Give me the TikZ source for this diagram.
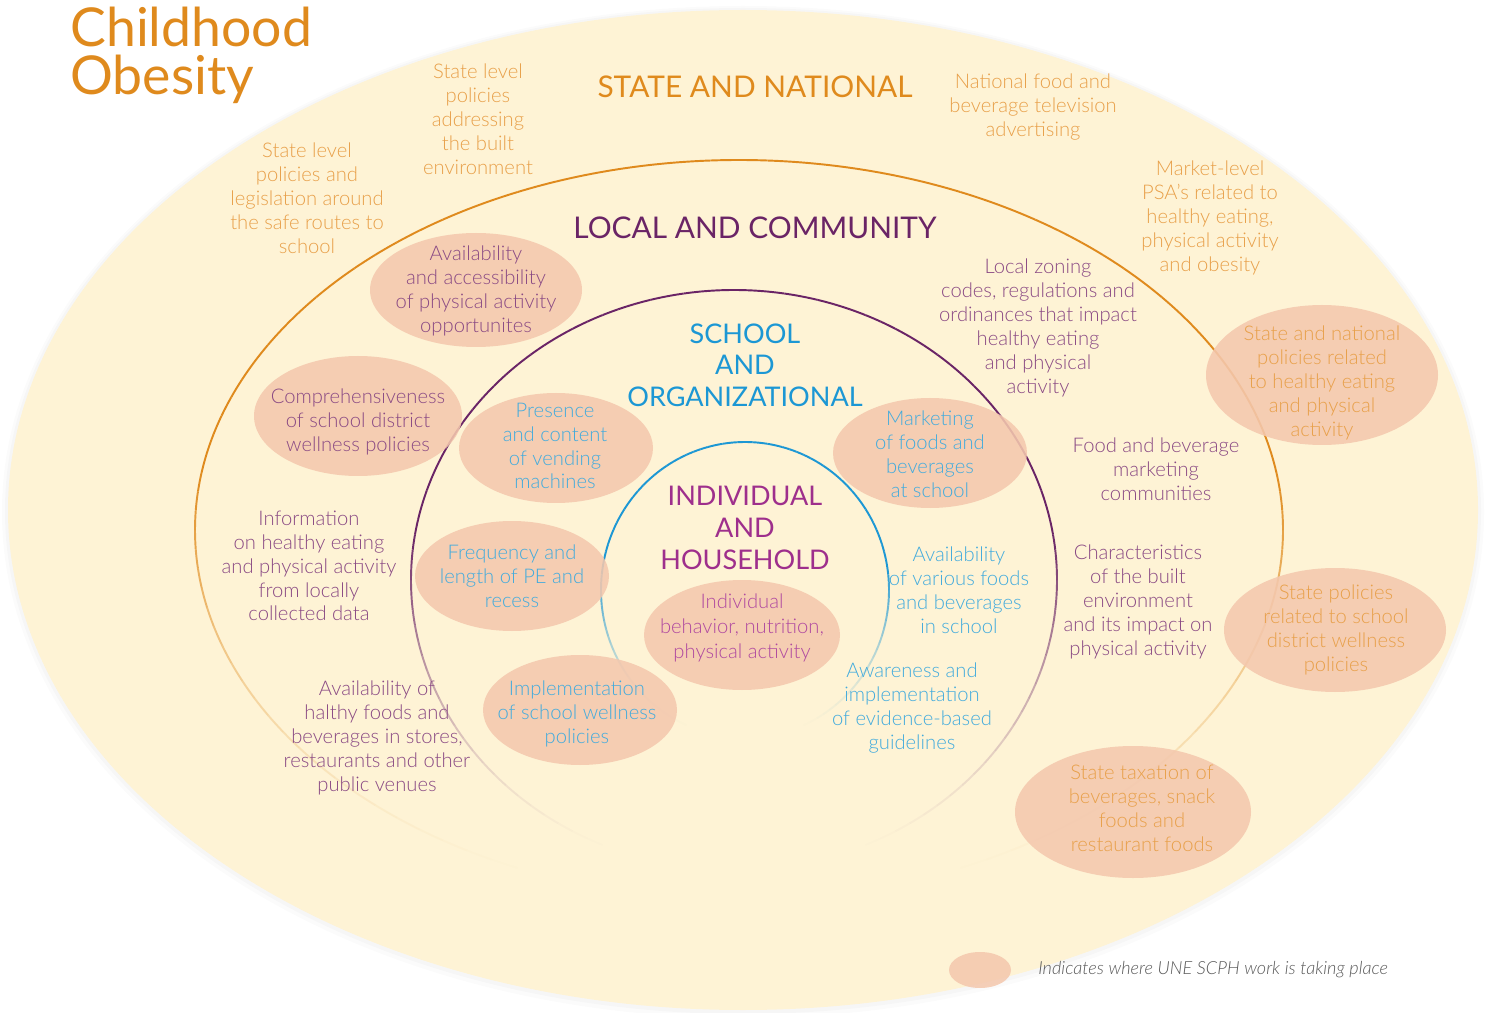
\documentclass[tikz,border=0pt]{standalone}
\usepackage{fontspec}
\setmainfont{Lato}
\newfontfamily\lightfont{Lato Light}
\usepackage{xcolor}

\definecolor{cream}{HTML}{FEF3D5}
\definecolor{bubblefill}{HTML}{F4C8AE}
\definecolor{stateorange}{HTML}{DF8A1D}
\definecolor{statetext}{HTML}{E8A04A}
\definecolor{localpurple}{HTML}{6A2466}
\definecolor{localtext}{HTML}{8A4A84}
\definecolor{schoolblue}{HTML}{1C97D4}
\definecolor{schooltext}{HTML}{42ABDD}
\definecolor{indivmagenta}{HTML}{9E2F8C}
\definecolor{indivtext}{HTML}{B04AA0}

\tikzset{
  heading/.style={font=\fontsize{17}{18}\selectfont, align=center, inner sep=0pt},
  smallheading/.style={font=\fontsize{15.4}{18}\selectfont, align=center, inner sep=0pt},
  item/.style={font=\lightfont\fontsize{11.5}{13.6}\selectfont, align=center, inner sep=0pt},
  bubble/.style={fill=bubblefill, fill opacity=0.88},
}

\begin{document}
\begin{tikzpicture}[x=0.02cm, y=-0.02cm]
\useasboundingbox (0,0) rectangle (1488,1013);
%% background, with a faint shadow round it
\fill [black, opacity=0.015] (743,512) ellipse [x radius=741, y radius=506];
\fill [black, opacity=0.02] (743,511) ellipse [x radius=738, y radius=503];
\fill [cream] (743,510) ellipse [x radius=735, y radius=500];
%% rings: solid on top, fading out towards the bottom
\foreach \cx/\cy/\rx/\ry/\col in {739/530/544/370/stateorange, 734/580/323/290/localpurple, 745/590/144/148/schoolblue}{
  \foreach \a in {0,3,...,357}{
    \pgfmathsetmacro\f{(1+sin(\a+1.5))/2}
    \pgfmathsetmacro\op{pow(max(0,min(1,(0.97-\f)/0.55)),1.5)}
    \draw [color=\col, line width=1.1pt, draw opacity=\op] ({\cx+\rx*cos(\a)},{\cy+\ry*sin(\a)})
      arc [start angle=\a, end angle=\a+3, x radius=\rx, y radius=\ry];
  }
}
%% bubbles
\fill [bubble] (476,290)  ellipse [x radius=106, y radius=57];
\fill [bubble] (1322,375) ellipse [x radius=116, y radius=70];
\fill [bubble] (358,416)  ellipse [x radius=104, y radius=60];
\fill [bubble] (556,448)  ellipse [x radius=97,  y radius=55];
\fill [bubble] (930,453)  ellipse [x radius=97,  y radius=55];
\fill [bubble] (512,576)  ellipse [x radius=97,  y radius=55];
\fill [bubble] (1335,630) ellipse [x radius=111, y radius=62];
\fill [bubble] (742,635)  ellipse [x radius=98,  y radius=55];
\fill [bubble] (580,710)  ellipse [x radius=97,  y radius=55];
\fill [bubble] (1133,812) ellipse [x radius=118, y radius=66];
\fill [bubble] (980,970)  ellipse [x radius=31,  y radius=18];

%% title
\node [font=\fontsize{30.5}{27}\selectfont, text=stateorange, align=left, anchor=north west, inner sep=0pt] (title) at (70,7) {Childhood\\Obesity};

%% state and national
\node [heading, text=stateorange] (state) at (755,87) {STATE AND NATIONAL};
\node [item, text=statetext] (builtpol) at (478,119) {State level\\policies\\addressing\\the built\\environment};
\node [item, text=statetext] (tvads) at (1033,107) {National food and\\beverage television\\advertising};
\node [item, text=statetext] (saferoutes) at (307,198) {State level\\policies and\\legislation around\\the safe routes to\\school};
\node [item, text=statetext] (psa) at (1210,218) {Market-level\\PSA’s related to\\healthy eating,\\physical activity\\and obesity};
\node [item, text=statetext] (natpol) at (1322,383) {State and national\\policies related\\to healthy eating\\and physical\\activity};
\node [item, text=statetext] (wellpol) at (1336,630) {State policies\\related to school\\district wellness\\policies};
\node [item, text=statetext] (tax) at (1142,808) {State taxation of\\beverages, snack\\foods and\\restaurant foods};

%% local and community
\node [heading, text=localpurple] (local) at (755,228) {LOCAL AND COMMUNITY};
\node [item, text=localtext] (access) at (476,291) {Availability\\and accessibility\\of physical activity\\opportunites};
\node [item, text=localtext] (zoning) at (1038,328) {Local zoning\\codes, regulations and\\ordinances that impact\\healthy eating\\and physical\\activity};
\node [item, text=localtext] (district) at (358,422) {Comprehensiveness\\of school district\\wellness policies};
\node [item, text=localtext] (marketing) at (1156,469) {Food and beverage\\marketing\\communities};
\node [item, text=localtext] (info) at (309,566) {Information\\on healthy eating\\and physical activity\\from locally\\collected data};
\node [item, text=localtext] (builtenv) at (1138,602) {Characteristics\\of the built\\environment\\and its impact on\\physical activity};
\node [item, text=localtext] (stores) at (377,738) {Availability of\\halthy foods and\\beverages in stores,\\restaurants and other\\public venues};

%% school and organizational
\node [smallheading, text=schoolblue] (school) at (745,365) {SCHOOL\\AND\\ORGANIZATIONAL};
\node [item, text=schooltext] (vending) at (555,446) {Presence\\and content\\of vending\\machines};
\node [item, text=schooltext] (schoolmkt) at (930,454) {Marketing\\of foods and\\beverages\\at school};
\node [item, text=schooltext] (pe) at (512,576) {Frequency and\\length of PE and\\recess};
\node [item, text=schooltext] (various) at (959,590) {Availability\\of various foods\\and beverages\\in school};
\node [item, text=schooltext] (guidelines) at (912,708) {Awareness and\\implementation\\of evidence-based\\guidelines};
\node [item, text=schooltext] (implement) at (577,714) {Implementation\\of school wellness\\policies};

%% individual and household
\node [smallheading, text=indivmagenta] (indiv) at (745,528) {INDIVIDUAL\\AND\\HOUSEHOLD};
\node [item, text=indivtext, font=\lightfont\fontsize{11.5}{14.2}\selectfont] (behavior) at (742,628) {Individual\\behavior, nutrition,\\physical activity};

%% legend
\node [font=\lightfont\itshape\fontsize{10.3}{12}\selectfont, text=black!65, anchor=west, inner sep=0pt] (legend) at (1038,970) {Indicates where UNE SCPH work is taking place};
\end{tikzpicture}
\end{document}
